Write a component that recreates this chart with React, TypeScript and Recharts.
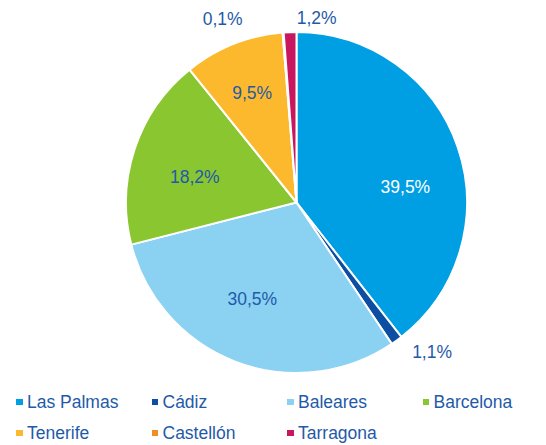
import React from "react";
import { PieChart, Pie, Cell, Legend } from "recharts";

const regions = ["Las Palmas", "Cádiz", "Baleares", "Barcelona", "Tenerife", "Castellón", "Tarragona"];
const shares = [39.5, 1.1, 30.5, 18.2, 9.5, 0.1, 1.2];
const colors = ["#009FE3", "#0B4EA2", "#8AD1F2", "#8AC630", "#FDB92D", "#F28C28", "#C8175E"];

const data = regions.map((name, i) => ({ name, value: shares[i] }));

if (typeof document !== "undefined") document.body.style.margin = "0";

const TEXT = "#1F5AA8";
const RAD = Math.PI / 180;

// per-slice label tweaks: radius (px) and angle shift (deg, recharts direction)
const labelPlace = [
  { r: 110, da: -10.8, fill: "#ffffff" },
  { r: 202, da: 6.2, fill: TEXT },
  { r: 106, da: -3.8, fill: TEXT },
  { r: 105, da: 4.1, fill: TEXT },
  { r: 118, da: 0.3, fill: TEXT },
  { r: 198, da: 17.4, fill: TEXT },
  { r: 186, da: -8.4, fill: TEXT },
];

const fmt = (v: number) => v.toFixed(1).replace(".", ",") + "%";

function renderLabel(props: any) {
  const { cx, cy, midAngle, index, value } = props;
  const p = labelPlace[index];
  const a = (midAngle + p.da) * RAD;
  const x = cx + p.r * Math.cos(-a);
  const y = cy + p.r * Math.sin(-a);
  return (
    <text
      x={x}
      y={y}
      fill={p.fill}
      textAnchor="middle"
      dominantBaseline="central"
      fontSize={17.5}
      fontFamily="'Liberation Sans', Arial, sans-serif"
    >
      {fmt(value)}
    </text>
  );
}

function LegendBox() {
  return (
    <div style={{ position: "relative", width: 546, height: 60 }}>
      {regions.map((name, i) => {
        const col = i % 4;
        const row = Math.floor(i / 4);
        return (
          <div
            key={name}
            style={{
              position: "absolute",
              left: 16 + col * 135.5,
              top: row * 31,
              display: "flex",
              alignItems: "center",
              height: 22,
              fontFamily: "'Liberation Sans', Arial, sans-serif",
              fontSize: 17.5,
              color: TEXT,
              whiteSpace: "nowrap",
            }}
          >
            <span style={{ width: 6.5, height: 6.5, background: colors[i], marginRight: 4.5, display: "inline-block" }} />
            {name}
          </div>
        );
      })}
    </div>
  );
}

export default function App() {
  return (
    <PieChart width={546} height={445} margin={{ top: 0, right: 0, bottom: 0, left: 0 }}>
      <Pie
        data={data}
        dataKey="value"
        nameKey="name"
        cx={296.5}
        cy={202.5}
        outerRadius={170.5}
        startAngle={90}
        endAngle={-270}
        stroke="#ffffff"
        strokeWidth={2}
        label={renderLabel}
        labelLine={false}
        isAnimationActive={false}
      >
        {data.map((d, i) => (
          <Cell key={d.name} fill={colors[i]} />
        ))}
      </Pie>
      <Legend
        content={() => <LegendBox />}
        wrapperStyle={{ position: "absolute", left: 0, top: 391, width: 546 }}
      />
    </PieChart>
  );
}
